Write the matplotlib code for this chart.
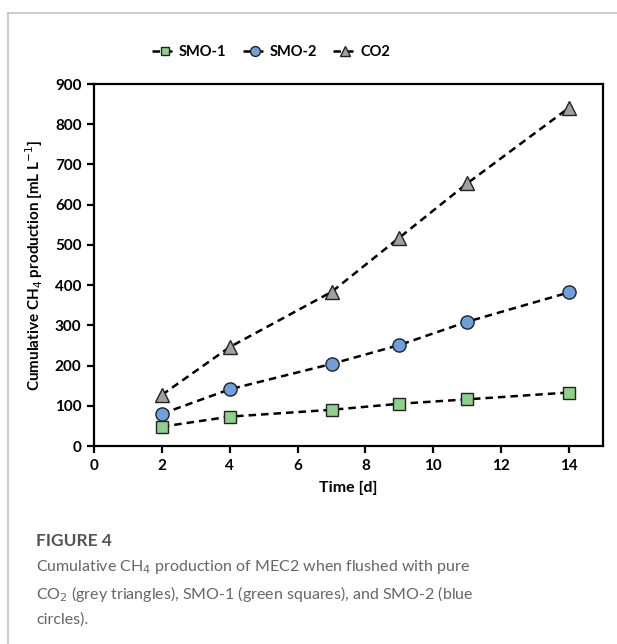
import matplotlib
matplotlib.use("Agg")
import matplotlib.pyplot as plt
from matplotlib.lines import Line2D

# data
days = [2, 4, 7, 9, 11, 14]
smo1 = [48, 73, 90, 105, 116, 133]
smo2 = [80, 141, 204, 251, 309, 382]
co2 = [127, 246, 383, 518, 653, 841]

series = [
    ("SMO-1", smo1, "s", "#8fd18a", 8.5),
    ("SMO-2", smo2, "o", "#6f9fdc", 9.5),
    ("CO2", co2, "^", "#a0a0a0", 9.5),
]

plt.rcParams['font.family'] = ['Lato', 'DejaVu Sans']

fig = plt.figure(figsize=(6.17, 6.44), dpi=100)
ax = fig.add_axes([94 / 617, 1 - 446 / 644, (603 - 94) / 617, (446 - 84) / 644])

for name, vals, mk, col, ms in series:
    ax.plot(days, vals, linestyle=(0, (3, 2)), color="black", lw=1.8,
            marker=mk, markersize=ms, markerfacecolor=col,
            markeredgecolor="#222222", markeredgewidth=1.0, label=name)

ax.set_xlim(0, 15)
ax.set_ylim(0, 900)
ax.set_xticks(range(0, 15, 2))
ax.set_yticks(range(0, 901, 100))
for s in ax.spines.values():
    s.set_linewidth(1.6)
ax.tick_params(direction="out", length=5, width=1.6, labelsize=11, pad=4)
for lab in ax.get_xticklabels() + ax.get_yticklabels():
    lab.set_fontweight("bold")

ax.set_xlabel("Time [d]", fontsize=11.5, fontweight="bold", labelpad=6)
ax.set_ylabel("Cumulative CH$_4$ production [mL L$^{-1}$]", fontsize=11,
              fontweight="bold", labelpad=7)

leg = fig.legend(loc="center", bbox_to_anchor=(271 / 617, 1 - 52 / 644), ncol=3,
                 frameon=False, handlelength=1.7, columnspacing=1.1, markerscale=0.75,
                 handletextpad=0.15, prop={"weight": "bold", "size": 10.5})

# card border
fig.add_artist(Line2D([8 / 617, 1], [1 - 13 / 644, 1 - 13 / 644], color="#c4c4c4", lw=1.2))
fig.add_artist(Line2D([8 / 617, 8 / 617], [0, 1 - 13 / 644], color="#c4c4c4", lw=1.2))

# caption
fig.text(36 / 617, 1 - 541 / 644, "FIGURE 4", fontsize=12.5, color="#555555",
         fontweight="bold", va="center", ha="left")
caption = [
    "Cumulative CH$_4$ production of MEC2 when flushed with pure",
    "CO$_2$ (grey triangles), SMO-1 (green squares), and SMO-2 (blue",
    "circles).",
]
for i, line in enumerate(caption):
    fig.text(36 / 617, 1 - (567 + 26.5 * i) / 644, line, fontsize=11.5,
             color="#666666", va="center", ha="left")

fig.savefig("out.png", dpi=100)
